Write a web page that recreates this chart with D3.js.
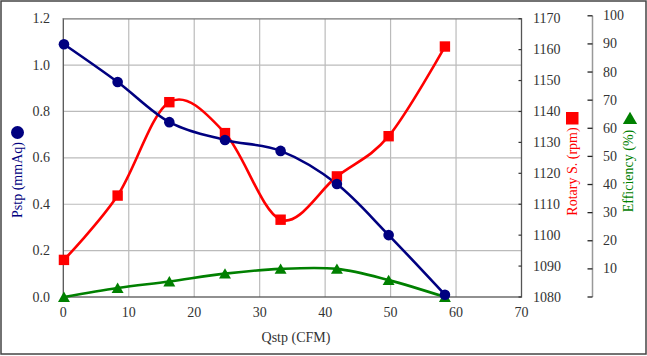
<!DOCTYPE html>
<html><head><meta charset="utf-8">
<script src="https://cdn.jsdelivr.net/npm/d3@7"></script>
<style>body{margin:0;background:#fff}svg{display:block}</style>
</head><body>
<svg id="c" width="647" height="356"></svg>
<script>
const qstp = [0.1, 8.3, 16.2, 24.7, 33.2, 41.8, 49.7, 58.3];
const pstp = [1.09, 0.927, 0.754, 0.677, 0.630, 0.487, 0.267, 0.01];
const rpm  = [1092, 1112.8, 1143, 1133, 1105, 1119, 1132, 1161];
const eff  = [0, 3.2, 5.5, 8.3, 10.0, 10.0, 6.0, 0];
const xTicks = [0,10,20,30,40,50,60,70];
const pTicks = [0,0.2,0.4,0.6,0.8,1.0,1.2];
const rTicks = [1080,1090,1100,1110,1120,1130,1140,1150,1160,1170];
const eTicks = [0,10,20,30,40,50,60,70,80,90,100];

const svg = d3.select('#c');
const font = '"Liberation Serif","Times New Roman",serif';
const txt = '#333';
const L=63.3, R=521.5, T=18.7, B=297;
const x = d3.scaleLinear().domain([0,70]).range([L,R]);
const yP = d3.scaleLinear().domain([0,1.2]).range([B,T]);
const yR = d3.scaleLinear().domain([1080,1170]).range([B,T]);
const yE = d3.scaleLinear().domain([0,100]).range([B,15.8]);
const NAVY='#000080', RED='#ff0000', GREEN='#008000';

// outer border
svg.append('rect').attr('x',1).attr('y',1).attr('width',645).attr('height',353)
  .attr('fill','#fff').attr('stroke','#444').attr('stroke-width',1.5);

// grid
const g = svg.append('g');
g.selectAll('.hg').data(pTicks.slice(1,-1)).join('line')
  .attr('x1',L).attr('x2',R).attr('y1',d=>yP(d)).attr('y2',d=>yP(d))
  .attr('stroke','#bbb').attr('stroke-width',1.2);
g.selectAll('.vg').data(xTicks.slice(1,-1)).join('line')
  .attr('y1',T).attr('y2',B).attr('x1',d=>x(d)).attr('x2',d=>x(d))
  .attr('stroke','#bbb').attr('stroke-width',1.2);
// plot frame
svg.append('rect').attr('x',L).attr('y',T).attr('width',R-L).attr('height',B-T)
  .attr('fill','none').attr('stroke','#555').attr('stroke-width',1.3);
svg.append('line').attr('x1',L).attr('x2',R).attr('y1',T).attr('y2',T).attr('stroke','#999').attr('stroke-width',1.3);

// left axis labels
svg.append('g').selectAll('text').data(pTicks).join('text')
  .attr('x',50).attr('y',d=>yP(d)).attr('text-anchor','end').attr('dominant-baseline','central')
  .attr('font-family',font).attr('font-size',14).attr('fill',txt).text(d=>d.toFixed(1));
// x axis labels
svg.append('g').selectAll('text').data(xTicks).join('text')
  .attr('x',d=>x(d)).attr('y',312).attr('text-anchor','middle').attr('dominant-baseline','central')
  .attr('font-family',font).attr('font-size',14).attr('fill',txt).text(d=>d);
// rpm axis ticks + labels
svg.append('g').selectAll('line').data(rTicks).join('line')
  .attr('x1',R-3).attr('x2',R).attr('y1',d=>yR(d)).attr('y2',d=>yR(d)).attr('stroke','#333').attr('stroke-width',1.2);
svg.append('g').selectAll('text').data(rTicks).join('text')
  .attr('x',533).attr('y',d=>yR(d)).attr('dominant-baseline','central')
  .attr('font-family',font).attr('font-size',14).attr('fill',txt).text(d=>d);
// efficiency axis
const EX=592.5;
svg.append('line').attr('x1',EX).attr('x2',EX).attr('y1',yE(100)).attr('y2',yE(0)).attr('stroke','#999').attr('stroke-width',1.5);
svg.append('g').selectAll('line').data(eTicks).join('line')
  .attr('x1',EX-5).attr('x2',EX).attr('y1',d=>yE(d)).attr('y2',d=>yE(d)).attr('stroke','#222').attr('stroke-width',1.3);
svg.append('g').selectAll('text').data(eTicks.slice(1)).join('text')
  .attr('x',603).attr('y',d=>yE(d)).attr('dominant-baseline','central')
  .attr('font-family',font).attr('font-size',14).attr('fill',txt).text(d=>d);

// titles
svg.append('text').attr('x',296).attr('y',337).attr('text-anchor','middle').attr('dominant-baseline','central')
  .attr('font-family',font).attr('font-size',14).attr('fill',txt).text('Qstp (CFM)');
function vtitle(cx,cy,s,col){
  svg.append('text').attr('transform',`translate(${cx},${cy}) rotate(-90)`)
    .attr('text-anchor','middle').attr('dominant-baseline','central')
    .attr('font-family',font).attr('font-size',14).attr('fill',col).text(s);
}
vtitle(17.5,180,'Pstp (mmAq)',NAVY);
svg.append('circle').attr('cx',17.5).attr('cy',132.5).attr('r',6.5).attr('fill',NAVY);
vtitle(572.5,171.5,'Rotary S. (rpm)',RED);
svg.append('rect').attr('x',566).attr('y',112).attr('width',12.5).attr('height',12.5).attr('fill',RED);
vtitle(628.5,171,'Efficiency (%)',GREEN);
svg.append('path').attr('d',d3.symbol(d3.symbolTriangle,88)()).attr('transform','translate(630,120)').attr('fill',GREEN);

// series
const curve = d3.curveCatmullRom.alpha(0);
const idx = d3.range(qstp.length);
function series(vals, ys, col){
  svg.append('path').datum(idx).attr('fill','none').attr('stroke',col).attr('stroke-width',2.6)
    .attr('d', d3.line().x(i=>x(qstp[i])).y(i=>ys(vals[i])).curve(curve));
}
series(eff,yE,GREEN);
series(rpm,yR,RED);
series(pstp,yP,NAVY);
svg.append('g').selectAll('path').data(idx).join('path')
  .attr('d',d3.symbol(d3.symbolTriangle,62)()).attr('transform',i=>`translate(${x(qstp[i])},${yE(eff[i])+1.5})`).attr('fill',GREEN);
svg.append('g').selectAll('rect').data(idx).join('rect')
  .attr('x',i=>x(qstp[i])-5.2).attr('y',i=>yR(rpm[i])-5.2).attr('width',10.4).attr('height',10.4).attr('fill',RED);
svg.append('g').selectAll('circle').data(idx).join('circle')
  .attr('cx',i=>x(qstp[i])).attr('cy',i=>yP(pstp[i])).attr('r',5.3).attr('fill',NAVY);
</script>
</body></html>
